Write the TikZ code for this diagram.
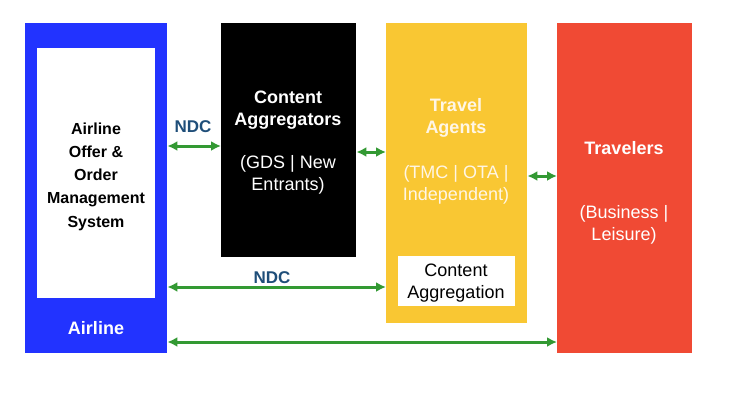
\documentclass[tikz,border=0pt]{standalone}
\usepackage{fontspec}
\setmainfont{Liberation Sans}
\usetikzlibrary{arrows.meta}
\definecolor{cblue}{HTML}{2233FF}
\definecolor{cyellow}{HTML}{F9C733}
\definecolor{cred}{HTML}{F04A34}
\definecolor{cgreen}{HTML}{339933}
\definecolor{cndc}{HTML}{1F4E79}
\definecolor{ctxt}{HTML}{FFF6E6}
\begin{document}
\begin{tikzpicture}[x=1pt,y=-1pt,
  box/.style={draw=none,inner sep=0pt,anchor=north west},
  lbl/.style={inner sep=0pt,align=center,font=\fontsize{18}{22.5}\selectfont},
  blbl/.style={lbl,font=\fontsize{18}{22.5}\selectfont\bfseries},
  ndc/.style={inner sep=0pt,text=cndc,font=\fontsize{17}{20}\selectfont\bfseries},
  arr/.style={draw=cgreen,line width=3pt,{Latex[length=10pt,width=10pt]}-{Latex[length=10pt,width=10pt]}}]
\useasboundingbox (0,0) rectangle (736,405);
% boxes
\node[box,fill=cblue,minimum width=142pt,minimum height=330pt] (blue) at (25,23) {};
\node[box,fill=white,minimum width=118pt,minimum height=250pt] (inner) at (37,48) {};
\node[box,fill=black,minimum width=135pt,minimum height=234pt] (black) at (221,23) {};
\node[box,fill=cyellow,minimum width=141pt,minimum height=300pt] (yellow) at (386,23) {};
\node[box,fill=white,minimum width=117pt,minimum height=50pt] (agg) at (398,256) {};
\node[box,fill=cred,minimum width=135pt,minimum height=330pt] (red) at (557,23) {};
% texts
\node[blbl,text=black,font=\fontsize{16}{23.3}\selectfont\bfseries] (t1) at (96,176.5) {Airline\\Offer \&\\Order\\Management\\System};
\node[blbl,text=white] (t2) at (96,328) {Airline};
\node[blbl,text=white] (t3) at (288,110) {Content\\Aggregators};
\node[lbl,text=white] (t4) at (288,175) {(GDS | New\\Entrants)};
\node[blbl,text=ctxt] (t5) at (456,118) {Travel\\Agents};
\node[lbl,text=ctxt] (t6) at (456,185) {(TMC | OTA |\\Independent)};
\node[lbl,text=black] (t7) at (456,283) {Content\\Aggregation};
\node[blbl,text=white] (t8) at (624,148) {Travelers};
\node[lbl,text=white] (t9) at (624,225) {(Business |\\Leisure)};
% arrows
\draw[arr] (blue.east |- 0,146) -- (black.west |- 0,146);
\draw[arr] (black.east |- 0,152) -- (yellow.west |- 0,152);
\draw[arr] (yellow.east |- 0,176) -- (red.west |- 0,176);
\draw[arr] (blue.east |- 0,287) -- (yellow.west |- 0,287);
\draw[arr] (blue.east |- 0,342) -- (red.west |- 0,342);
\node[ndc] (n1) at (193,127) {NDC};
\node[ndc] (n2) at (272,278) {NDC};
\end{tikzpicture}
\end{document}
